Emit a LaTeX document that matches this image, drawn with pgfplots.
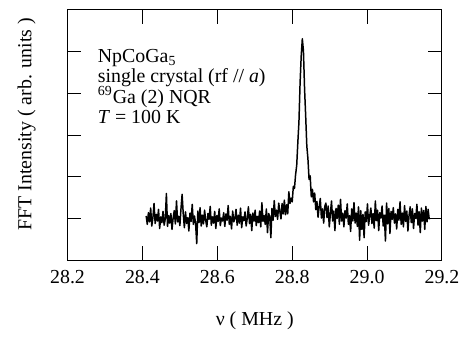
\documentclass[border=0pt]{standalone}
\usepackage{fontspec}
\setmainfont{Liberation Serif}
\usepackage{pgfplots}
\pgfplotsset{compat=1.18}
\usepackage{pgfplotstable}
\pgfplotstableread{
x y
28.410 1.06
28.413 0.86
28.416 1.14
28.419 0.92
28.422 1.25
28.425 0.82
28.428 1.02
28.431 1.36
28.434 0.88
28.437 1.10
28.440 0.94
28.443 1.22
28.446 0.76
28.449 1.04
28.452 0.90
28.455 1.17
28.458 0.84
28.461 0.99
28.464 1.60
28.467 0.81
28.470 1.07
28.473 0.89
28.476 1.12
28.479 0.74
28.482 1.01
28.485 1.19
28.488 0.87
28.491 1.42
28.494 0.92
28.497 1.05
28.500 0.83
28.503 1.24
28.506 1.58
28.509 1.11
28.512 0.78
28.515 1.16
28.518 0.88
28.521 1.02
28.524 0.70
28.527 1.13
28.530 0.93
28.533 1.34
28.536 0.86
28.539 1.06
28.542 0.88
28.545 0.40
28.548 1.18
28.551 0.90
28.554 1.26
28.557 0.82
28.560 1.08
28.563 0.87
28.566 1.20
28.569 0.95
28.572 0.80
28.575 1.12
28.578 0.98
28.581 1.29
28.584 0.84
28.587 1.04
28.590 0.89
28.593 1.17
28.596 0.76
28.599 1.07
28.602 0.93
28.605 1.23
28.608 0.83
28.611 1.01
28.614 0.94
28.617 1.14
28.620 0.81
28.623 1.11
28.626 0.96
28.629 1.31
28.632 0.86
28.635 1.05
28.638 0.75
28.641 1.18
28.644 0.92
28.647 1.00
28.650 1.22
28.653 0.84
28.656 1.08
28.659 0.89
28.662 1.25
28.665 0.78
28.668 1.04
28.671 0.95
28.674 1.16
28.677 0.82
28.680 1.01
28.683 1.28
28.686 0.88
28.689 1.10
28.692 0.71
28.695 1.13
28.698 0.94
28.701 1.20
28.704 0.83
28.707 1.05
28.710 0.90
28.713 1.18
28.716 0.80
28.719 1.38
28.722 0.93
28.725 1.07
28.728 0.86
28.731 1.23
28.734 0.66
28.737 1.12
28.740 1.05
28.743 0.54
28.746 1.24
28.749 0.96
28.752 1.43
28.755 1.05
28.758 1.20
28.761 0.98
28.764 1.37
28.767 1.17
28.770 0.99
28.773 1.36
28.776 1.11
28.779 1.44
28.782 1.09
28.785 1.33
28.788 1.11
28.791 1.64
28.794 1.36
28.797 1.49
28.800 1.40
28.803 1.77
28.806 1.72
28.809 2.05
28.812 2.27
28.815 2.82
28.818 3.32
28.821 4.24
28.824 4.89
28.827 5.31
28.830 5.02
28.833 4.11
28.836 3.45
28.839 2.74
28.842 2.43
28.845 1.94
28.848 2.02
28.851 1.52
28.854 1.70
28.857 1.40
28.860 1.61
28.863 1.21
28.866 1.41
28.869 1.03
28.872 1.28
28.875 1.48
28.878 1.01
28.881 1.23
28.884 0.89
28.887 1.29
28.890 1.37
28.893 1.02
28.896 1.30
28.899 0.80
28.902 1.12
28.905 1.42
28.908 0.94
28.911 1.18
28.914 0.71
28.917 1.24
28.920 1.00
28.923 1.32
28.926 0.86
28.929 1.46
28.932 0.94
28.935 1.13
28.938 0.80
28.941 1.19
28.944 1.01
28.947 1.35
28.950 0.86
28.953 1.07
28.956 0.69
28.959 1.23
28.962 0.94
28.965 1.38
28.968 0.89
28.971 1.13
28.974 0.81
28.977 1.28
28.980 0.48
28.983 1.19
28.986 0.74
28.989 1.10
28.992 0.54
28.995 1.16
28.998 0.93
29.001 1.35
29.004 0.84
29.007 1.06
29.010 1.25
29.013 0.88
29.016 1.12
29.019 0.77
29.022 1.42
29.025 0.95
29.028 1.20
29.031 0.71
29.034 1.14
29.037 1.01
29.040 1.30
29.043 0.82
29.046 1.08
29.049 0.46
29.052 1.37
29.055 0.87
29.058 1.24
29.061 0.64
29.064 1.17
29.067 0.98
29.070 1.26
29.073 0.89
29.076 1.11
29.079 0.75
29.082 1.22
29.085 0.96
29.088 1.40
29.091 0.86
29.094 1.13
29.097 0.80
29.100 1.31
29.103 0.93
29.106 1.18
29.109 0.70
29.112 1.07
29.115 1.28
29.118 0.90
29.121 1.23
29.124 0.76
29.127 1.12
29.130 1.00
29.133 1.34
29.136 0.84
29.139 1.16
29.142 0.66
29.145 1.25
29.148 0.94
29.151 1.19
29.154 0.74
29.157 1.29
29.160 0.92
29.163 1.22
29.166 0.98
}\spectrum
\begin{document}
\begin{tikzpicture}
\begin{axis}[
  scale only axis,
  width=188.5pt, height=126pt,
  xmin=28.2, xmax=29.2, ymin=0, ymax=6,
  xtick={28.2,28.4,...,29.2},
  ytick={1,2,3,4,5},
  yticklabels={},
  tick align=inside,
  major tick length=7pt,
  axis line style={line width=0.5pt},
  every tick/.style={black, line width=0.5pt},
  tick label style={font=\fontsize{10}{12}\selectfont},
  xticklabel style={yshift=-1.5pt, /pgf/number format/.cd, fixed, fixed zerofill, precision=1, assume math mode=true},
  xlabel={ν ( MHz )},
  ylabel={FFT Intensity ( arb. units )},
  label style={font=\fontsize{10}{12}\selectfont},
  xlabel style={at={(axis description cs:0.5,-0.242)}, anchor=center},
  ylabel style={at={(axis description cs:-0.109,0.544)}, anchor=center},
  clip=false,
]
\addplot[black, line width=0.75pt, mark=none, line join=round] table[x=x, y=y] {\spectrum};
\node[anchor=base west, font=\fontsize{10}{12}\selectfont, inner sep=0pt] at (rel axis cs:0.08,0.791) {NpCoGa\textsubscript{5}};
\node[anchor=base west, font=\fontsize{10}{12}\selectfont, inner sep=0pt] at (rel axis cs:0.08,0.710) {single crystal (rf // \textit{a})};
\node[anchor=base west, font=\fontsize{10}{12}\selectfont, inner sep=0pt] at (rel axis cs:0.08,0.628) {\textsuperscript{69}Ga (2) NQR};
\node[anchor=base west, font=\fontsize{10}{12}\selectfont, inner sep=0pt] at (rel axis cs:0.08,0.547) {\textit{T} = 100 K};
\end{axis}
\path ([shift={(-34pt,-35.5pt)}]current axis.south west) rectangle ([shift={(10.5pt,5pt)}]current axis.north east);
\end{tikzpicture}
\end{document}
